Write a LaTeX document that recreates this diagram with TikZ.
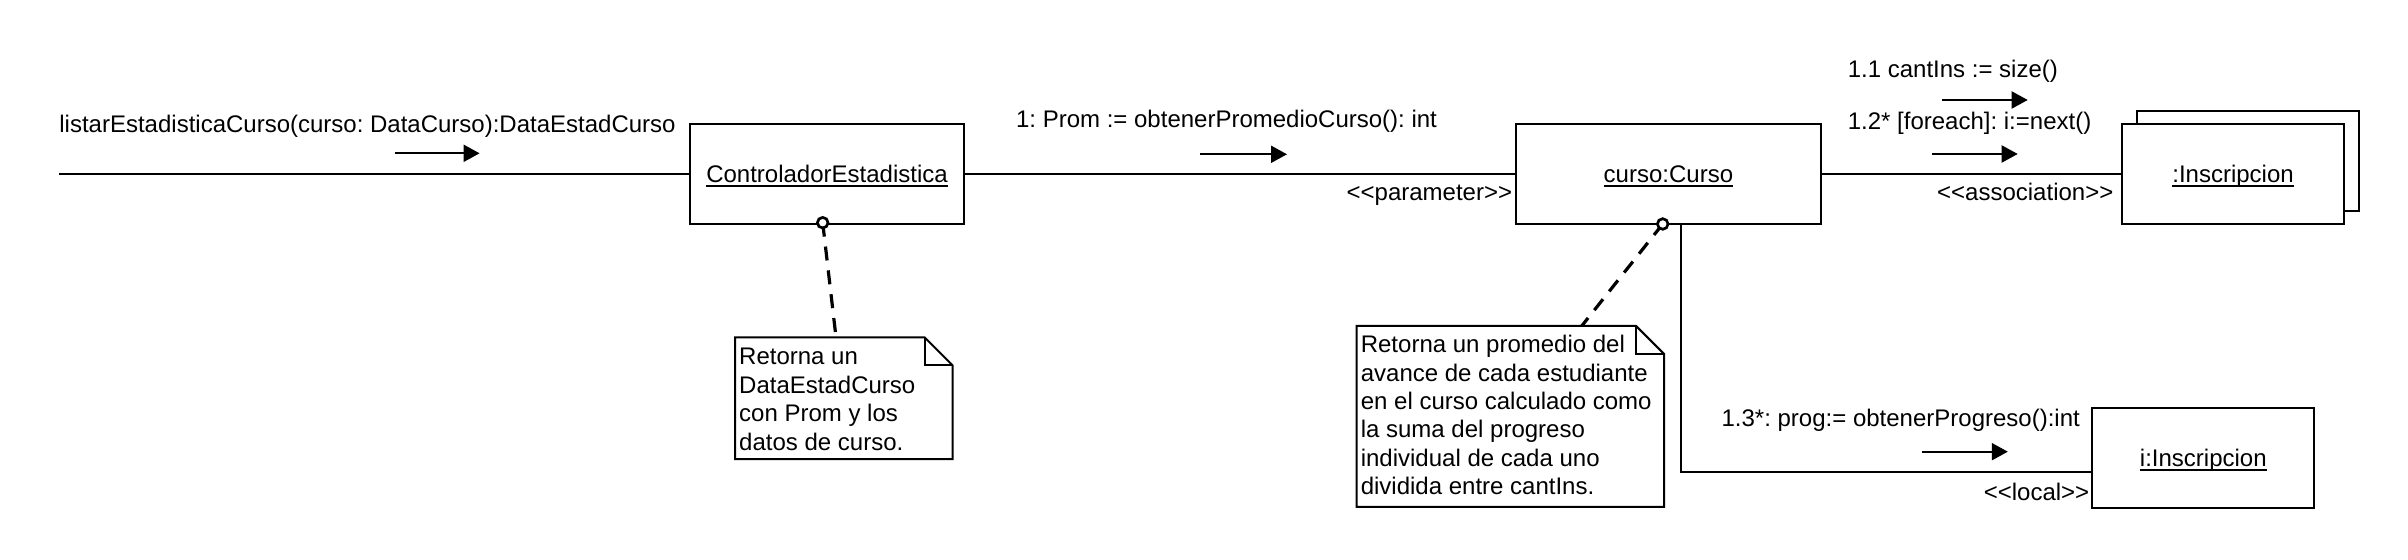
\documentclass[tikz,border=0pt]{standalone}
\usepackage{fontspec}
\setmainfont{Liberation Sans}
\usetikzlibrary{arrows.meta}
\frenchspacing
\newcommand{\ulx}[1]{\setbox0\hbox{#1}\rlap{\raisebox{-2.1pt}[0pt][0pt]{\rule{\wd0}{0.8pt}}}\box0}
\newcommand{\ltlt}{<\kern0pt<}
\newcommand{\gtgt}{>\kern0pt>}
\begin{document}
\begin{tikzpicture}[x=0.5pt,y=-0.5pt,
  every node/.style={font=\fontsize{12}{14.4}\selectfont\frenchspacing, inner sep=0pt},
  objbox/.style={draw, line width=1pt, fill=white, minimum height=50pt, text height=8.6pt, text depth=0pt},
  conn/.style={line width=1pt},
  msg/.style={line width=1pt, -{Triangle[length=8pt,width=8.5pt]}},
  notelink/.style={line width=1.6pt, dash pattern=on 7pt off 5pt},
  notepaper/.style={draw, line width=1pt, fill=white, line join=miter},
  lbl/.style={anchor=base west},
  lble/.style={anchor=base east},
  pinmark/.style={draw, line width=1.35pt, fill=white}
]
\fill[white] (0,0) rectangle (2408,560);
\useasboundingbox (0,0) rectangle (2408,560);

% objects
\node[objbox, minimum width=137pt] (ctrl) at (827,174) {\ulx{ControladorEstadistica}};
\node[objbox, minimum width=152.5pt] (curso) at (1668.4,174) {\ulx{curso:Curso}};
\node[objbox, minimum width=110.75pt] (inscb) at (2247.75,160.85) {};
\node[objbox, minimum width=111pt] (insc) at (2233,174) {\ulx{:Inscripcion}};
\node[objbox, minimum width=111pt] (iinsc) at (2203.3,458) {\ulx{i:Inscripcion}};

% links
\coordinate (start) at (59,174);
\draw[conn] (start) -- (ctrl.west);
\draw[conn] (ctrl.east) -- (curso.west);
\draw[conn] (curso.east) -- (insc.west);
\coordinate (bend) at (1680.7,472.3);
\draw[conn] (curso.south -| bend) -- (bend) -- (bend -| iinsc.west);

% message labels
\node[lbl] (m0) at (59,133) {listarEstadisticaCurso(curso: DataCurso):DataEstadCurso};
\node[lbl] (m1) at (1015.7,127.5) {1: Prom := obtenerPromedioCurso(): int};
\node[lble] (s1) at (1512.5,200.5) {\ltlt parameter\gtgt};
\node[lbl] (m11) at (1847.4,77.5) {1.1 cantIns := size()};
\node[lbl] (m12) at (1847.4,129.5) {1.2* [foreach]: i:=next()};
\node[lble] (s2) at (2113.7,200.5) {\ltlt association\gtgt};
\node[lbl] (m13) at (1721.2,427) {1.3*: prog:= obtenerProgreso():int};
\node[lble] (s3) at (2089.6,500.5) {\ltlt local\gtgt};

% message arrows
\coordinate (a0s) at (395.4,153.3); \coordinate (a0e) at (479.6,153.3);
\draw[msg] (a0s) -- (a0e);
\coordinate (a1s) at (1200.4,154.3); \coordinate (a1e) at (1287,154.3);
\draw[msg] (a1s) -- (a1e);
\coordinate (a11s) at (1942.3,100); \coordinate (a11e) at (2027.7,100);
\draw[msg] (a11s) -- (a11e);
\coordinate (a12s) at (1932.3,154); \coordinate (a12e) at (2017.7,154);
\draw[msg] (a12s) -- (a12e);
\coordinate (a13s) at (1922.4,451.7); \coordinate (a13e) at (2007.8,451.7);
\draw[msg] (a13s) -- (a13e);

% note links
\coordinate (c1) at (822.7,222.7); \coordinate (n1top) at (836,337.3);
\draw[notelink] (c1) -- (n1top);
\coordinate (c2) at (1662.7,224); \coordinate (n2top) at (1581.7,326);
\draw[notelink] (c2) -- (n2top);

% notes
\node[minimum width=108.35pt, minimum height=60.5pt, anchor=north west] (note1) at (735,337.3) {};
\draw[notepaper] (note1.north west) -- ([xshift=-14pt]note1.north east) -- ([yshift=-14pt]note1.north east) -- (note1.south east) -- (note1.south west) -- cycle;
\draw[line width=1pt] ([xshift=-14pt]note1.north east) |- ([yshift=-14pt]note1.north east);
\node[anchor=base west] (note1txt) at (738.8,365) {\vtop{\baselineskip=14.2pt\hbox{Retorna un}\hbox{DataEstadCurso}\hbox{con Prom y los}\hbox{datos de curso.}}};

\node[minimum width=153.3pt, minimum height=90pt, anchor=north west] (note2) at (1356.7,326) {};
\draw[notepaper] (note2.north west) -- ([xshift=-14pt]note2.north east) -- ([yshift=-14pt]note2.north east) -- (note2.south east) -- (note2.south west) -- cycle;
\draw[line width=1pt] ([xshift=-14pt]note2.north east) |- ([yshift=-14pt]note2.north east);
\node[anchor=base west] (note2txt) at (1360.4,352.7) {\vtop{\baselineskip=14.2pt\hbox{Retorna un promedio del}\hbox{avance de cada estudiante}\hbox{en el curso calculado como}\hbox{la suma del progreso}\hbox{individual de cada uno}\hbox{dividida entre cantIns.}}};

% pins
\draw[pinmark] (c1) circle[radius=2.65pt];
\draw[pinmark] (c2) circle[radius=2.65pt];
\end{tikzpicture}
\end{document}
